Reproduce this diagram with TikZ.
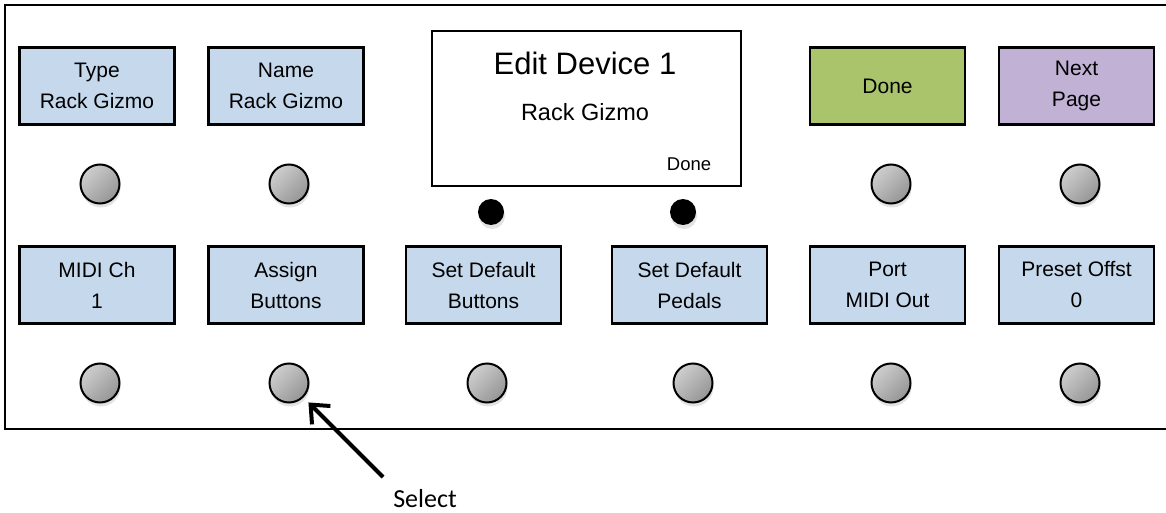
\documentclass[tikz,border=0pt]{standalone}
\usepackage{fontspec}
\setmainfont{Liberation Sans}
\newfontfamily\selfont{Carlito}
\usetikzlibrary{arrows.meta,shadows}
\definecolor{keyblue}{RGB}{198,217,236}
\definecolor{donegreen}{RGB}{170,196,108}
\definecolor{nextpurple}{RGB}{193,177,212}
\definecolor{knoblight}{RGB}{205,205,205}
\definecolor{knobdark}{RGB}{150,150,150}
\begin{document}
\begin{tikzpicture}[x=1pt,y=-1pt,
  keybox/.style={draw=black, line width=2.5pt, fill=keyblue, minimum width=155pt, minimum height=77pt, inner sep=0pt, align=center, font=\fontsize{21}{31}\selectfont},
  knob/.style={circle, draw=black, line width=2pt, minimum size=39pt, inner sep=0pt, top color=knoblight, bottom color=knobdark, shading angle=45, drop shadow={opacity=0.22, shadow xshift=1pt, shadow yshift=-4pt}},
  blackdot/.style={circle, fill=black, minimum size=26pt, inner sep=0pt, drop shadow={opacity=0.22, shadow xshift=1pt, shadow yshift=-4pt}},
  pointer/.style={line width=4pt, -{Straight Barb[length=15pt,width=26pt]}, shorten >=7pt}
]
\useasboundingbox (0,0) rectangle (1166,513);
\draw[line width=2.5pt] (1166,5) -- (5,5) -- (5,429) -- (1166,429);

% top row
\node[keybox] (type) at (97,86) {Type\\Rack Gizmo};
\node[keybox] (name) at (286,86) {Name\\Rack Gizmo};
\node[keybox, fill=donegreen] (done) at (887.5,86) {Done};
\node[keybox, fill=nextpurple] (next) at (1076.5,86) {Next\\Page};

% display
\node[draw=black, line width=2.5pt, fill=white, minimum width=309pt, minimum height=155pt, inner sep=0pt] (disp) at (586.5,108.5) {};
\node[font=\fontsize{31}{31}\selectfont] (title) at (585,63) {Edit Device 1};
\node[font=\fontsize{23.5}{24}\selectfont] (dname) at (585,112) {Rack Gizmo};
\node[font=\fontsize{18.5}{19}\selectfont] (ddone) at (689,164) {Done};

% top knobs and dots
\node[knob] (k1) at (100,184) {};
\node[knob] (k2) at (289,184) {};
\node[knob] (k3) at (891,184) {};
\node[knob] (k4) at (1080,184) {};
\node[blackdot] (d1) at (491,212) {};
\node[blackdot] (d2) at (683,212) {};

% bottom row
\node[keybox] (midi) at (97,285) {MIDI Ch\\1};
\node[keybox] (assign) at (286,285) {Assign\\Buttons};
\node[keybox] (sdb) at (483.5,285) {Set Default\\Buttons};
\node[keybox] (sdp) at (689.5,285) {Set Default\\Pedals};
\node[keybox] (port) at (887.5,285) {Port\\MIDI Out};
\node[keybox] (preset) at (1076.5,285) {Preset Offst\\0};

% bottom knobs
\node[knob] (b1) at (100,383) {};
\node[knob] (b2) at (289,383) {};
\node[knob] (b3) at (487,383) {};
\node[knob] (b4) at (693,383) {};
\node[knob] (b5) at (891,383) {};
\node[knob] (b6) at (1080,383) {};

% select pointer
\node[font=\selfont\fontsize{26}{26}\selectfont, inner sep=0pt] (sel) at (425,499) {Select};
\coordinate (tail) at (383,477);
\draw[pointer] (tail) -- (b2);
\end{tikzpicture}
\end{document}
